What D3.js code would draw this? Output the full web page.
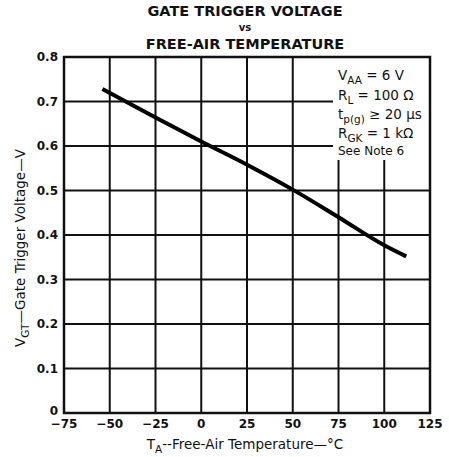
<!DOCTYPE html>
<html lang="en">
<head>
<meta charset="UTF-8">
<title>Gate Trigger Voltage vs Free-Air Temperature</title>
<script src="https://d3js.org/d3.v7.min.js"></script>
<style>
  body { margin: 0; background: #fff; }
  text { font-family: "DejaVu Sans", "Liberation Sans", Arial, sans-serif; fill: #111; }
</style>
</head>
<body>
<svg id="chart" width="449" height="457"></svg>
<script>
  // values
  const temps = [-54, -25, 0, 25, 50, 75, 100, 112];
  const vgt = [0.728, 0.664, 0.610, 0.558, 0.502, 0.440, 0.377, 0.352];

  const xTicks = [-75, -50, -25, 0, 25, 50, 75, 100, 125];
  const yTicks = [0, 0.1, 0.2, 0.3, 0.4, 0.5, 0.6, 0.7, 0.8];
  const titleLines = ["GATE TRIGGER VOLTAGE", "vs", "FREE-AIR TEMPERATURE"];

  const svg = d3.select("#chart");
  const plotL = 64, plotR = 430, plotT = 57, plotB = 413;

  const x = d3.scaleLinear().domain([-75, 125]).range([plotL, plotR]);
  const y = d3.scaleLinear().domain([0, 0.8]).range([plotB, plotT]);

  // grid
  svg.append("g")
    .selectAll("line")
    .data(xTicks.slice(1, -1))
    .join("line")
    .attr("x1", d => x(d)).attr("x2", d => x(d))
    .attr("y1", plotT).attr("y2", plotB)
    .attr("stroke", "#111").attr("stroke-width", 2);

  svg.append("g")
    .selectAll("line")
    .data(yTicks.slice(1, -1))
    .join("line")
    .attr("x1", plotL).attr("x2", plotR)
    .attr("y1", d => y(d)).attr("y2", d => y(d))
    .attr("stroke", "#111").attr("stroke-width", 2);

  // white box behind the conditions
  svg.append("rect")
    .attr("x", 333).attr("y", plotT).attr("width", plotR - 333).attr("height", 103)
    .attr("fill", "#fff");

  // frame
  svg.append("rect")
    .attr("x", plotL).attr("y", plotT)
    .attr("width", plotR - plotL).attr("height", plotB - plotT)
    .attr("fill", "none").attr("stroke", "#111").attr("stroke-width", 2.5);

  // curve
  const line = d3.line()
    .x((d, i) => x(temps[i]))
    .y(d => y(d))
    .curve(d3.curveMonotoneX);

  svg.append("path")
    .datum(vgt)
    .attr("d", line)
    .attr("fill", "none")
    .attr("stroke", "#000")
    .attr("stroke-width", 4);

  // tick labels
  svg.append("g")
    .selectAll("text")
    .data(xTicks)
    .join("text")
    .attr("x", d => x(d)).attr("y", 428)
    .attr("text-anchor", "middle")
    .attr("font-size", 12).attr("font-weight", "bold")
    .text(d => d < 0 ? "\u2212" + Math.abs(d) : d);

  svg.append("g")
    .selectAll("text")
    .data(yTicks)
    .join("text")
    .attr("x", 58).attr("y", d => d === 0 ? y(d) + 2 : y(d) + 4)
    .attr("text-anchor", "end")
    .attr("font-size", 12).attr("font-weight", "bold")
    .text(d => d === 0 ? "0" : d.toFixed(1));

  // title
  svg.append("g")
    .selectAll("text")
    .data(titleLines)
    .join("text")
    .attr("x", 245)
    .attr("y", (d, i) => [16, 31, 49][i])
    .attr("text-anchor", "middle")
    .attr("font-size", (d, i) => i === 1 ? 10 : 14.5)
    .attr("font-weight", "bold")
    .text(d => d);

  // axis titles
  const xl = svg.append("text")
    .attr("x", 245).attr("y", 449)
    .attr("text-anchor", "middle")
    .attr("font-size", 13.5);
  xl.append("tspan").text("T");
  xl.append("tspan").attr("dy", 4).attr("font-size", 10.5).text("A");
  xl.append("tspan").attr("dy", -4).text("--Free-Air Temperature\u2014\u00b0C");

  const yl = svg.append("text")
    .attr("transform", "translate(25,248) rotate(-90)")
    .attr("text-anchor", "middle")
    .attr("font-size", 13.5);
  yl.append("tspan").text("V");
  yl.append("tspan").attr("dy", 4).attr("font-size", 10.5).text("GT");
  yl.append("tspan").attr("dy", -4).text("\u2014Gate Trigger Voltage\u2014V");

  // conditions
  const notes = svg.append("g").attr("font-size", 13.5);
  const addNote = (yy, main, sub, rest) => {
    const t = notes.append("text").attr("x", 338).attr("y", yy);
    t.append("tspan").text(main);
    if (sub) t.append("tspan").attr("dy", 4).attr("font-size", 10.5).text(sub);
    t.append("tspan").attr("dy", sub ? -4 : 0).text(rest);
  };
  addNote(80, "V", "AA", " = 6 V");
  addNote(100, "R", "L", " = 100 \u03a9");
  addNote(119, "t", "p(g)", " \u2265 20 \u00b5s");
  addNote(138, "R", "GK", " = 1 k\u03a9");
  notes.append("text").attr("x", 338).attr("y", 155).attr("font-size", 12).text("See Note 6");
</script>
</body>
</html>
